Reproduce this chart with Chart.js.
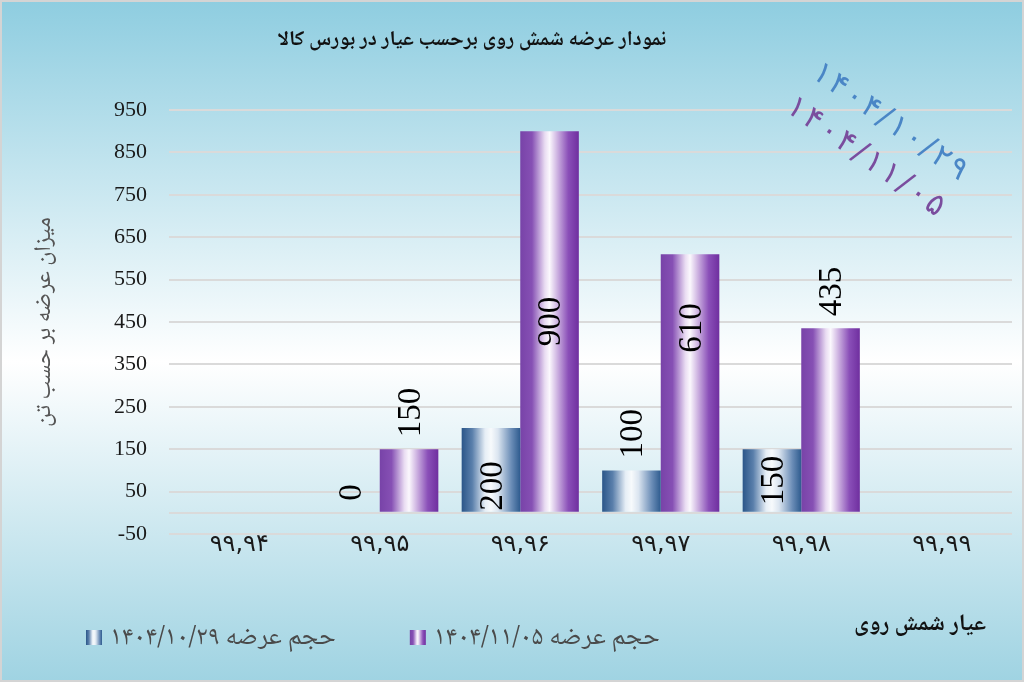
<!DOCTYPE html>
<html><head><meta charset="utf-8">
<script src="https://cdn.jsdelivr.net/npm/chart.js@4"></script>
<style>html,body{margin:0;padding:0;background:#fff}canvas{display:block}</style>
</head><body>
<canvas id="c" width="1024" height="682"></canvas>
<script>
// ---------- data ----------
const categories = ['۹۹,۹۴', '۹۹,۹۵', '۹۹,۹۶', '۹۹,۹۷', '۹۹,۹۸', '۹۹,۹۹'];
const seriesNames = ['حجم عرضه ۱۴۰۴/۱۰/۲۹', 'حجم عرضه ۱۴۰۴/۱۱/۰۵'];
const offer1029 = [null, 0, 200, 100, 150, null];
const offer1105 = [null, 150, 900, 610, 435, null];
const yTicks = [-50, 50, 150, 250, 350, 450, 550, 650, 750, 850, 950];
const yMin = -50, yMax = 950;
const titleText = 'نمودار عرضه شمش روی برحسب عیار در بورس کالا';
const yTitleText = 'میزان عرضه بر حسب تن';
const xTitleText = 'عیار شمش روی';
const dateStamps = ['۱۴۰۴/۱۰/۲۹', '۱۴۰۴/۱۱/۰۵'];

// ---------- styles ----------
const AR_FONT = '"Noto Naskh Arabic", "Noto Sans Arabic", "DejaVu Sans Condensed", "DejaVu Sans", sans-serif';
const DIGIT_FONT = '"DejaVu Sans", sans-serif';
const NUM_FONT = '"Liberation Serif", "Times New Roman", serif';
const blueStops = [[0,'#2b5689'],[0.18,'#5a7fab'],[0.4,'#e6eef6'],[0.5,'#f7fafc'],[0.62,'#dbe5f0'],[0.85,'#6a8cb6'],[1,'#2e5b8e']];
const purpleStops = [[0,'#7843a8'],[0.2,'#8650b4'],[0.42,'#e9dcf2'],[0.5,'#fbf8fd'],[0.6,'#d9c4e8'],[0.82,'#8a4fb8'],[1,'#6f2f9f']];
const seriesStops = [blueStops, purpleStops];
const stampColors = ['#4a86c6', '#7a4d9e'];
// where each value label sits: out = above bar, center, base = inside at bottom, top = inside near top
const labelPlacement = [
  [null, 'out', 'base', 'out', 'center', null],
  [null, 'out', 'center', 'top', 'out', null]
];

const mctx = document.createElement('canvas').getContext('2d');
function fitSize(text, target, weight, family) {
  mctx.font = weight + ' 100px ' + family;
  return 100 * target / mctx.measureText(text).width;
}
const titleSize = Math.max(18, fitSize(titleText, 389, 'bold', AR_FONT));
const yTitleSize = fitSize(yTitleText, 210, 'normal', AR_FONT);
const xTitleSize = Math.max(16, fitSize(xTitleText, 132, 'bold', AR_FONT));
const legendSize = fitSize(seriesNames[0], 226, 'normal', AR_FONT);
const yTickSize = 22, xTickSize = 24, xTickPad = -4, yTickPad = 22;

mctx.font = yTickSize + 'px ' + NUM_FONT;
const labelW = Math.max(...yTicks.map(v => mctx.measureText(String(v)).width));
const padLeft = 8;
const yLH = 1.2 * yTitleSize;
const yTitlePadTop = 47 - padLeft - yLH / 2;
const yTitlePadBottom = Math.max(0, 170 - padLeft - yTitlePadTop - yLH - labelW - yTickPad - 23);
const padBottom = 682 - 534 - (1.2 * xTickSize + xTickPad) + 4;

function hGrad(ctx, x0, x1, stops) {
  const g = ctx.createLinearGradient(x0, 0, x1, 0);
  stops.forEach(([o, c]) => g.addColorStop(o, c));
  return g;
}

const bgPlugin = {
  id: 'bg',
  beforeDraw(chart) {
    const {ctx, width, height} = chart;
    const g = ctx.createLinearGradient(0, 0, 0, height);
    g.addColorStop(0, '#8ecde0');
    g.addColorStop(0.53, '#ffffff');
    g.addColorStop(1, '#9fd3e2');
    ctx.save();
    ctx.fillStyle = g;
    ctx.fillRect(0, 0, width, height);
    ctx.restore();
  }
};

const gradPlugin = {
  id: 'gradBars',
  beforeDatasetsDraw(chart) {
    const ctx = chart.ctx;
    chart.data.datasets.forEach((ds, i) => {
      const meta = chart.getDatasetMeta(i);
      meta.data.forEach(el => {
        const w = el.width;
        el.options = Object.assign({}, el.options, {
          backgroundColor: hGrad(ctx, el.x - w / 2, el.x + w / 2, seriesStops[i])
        });
      });
    });
  }
};

const labelPlugin = {
  id: 'vlabels',
  afterDatasetsDraw(chart) {
    const ctx = chart.ctx;
    ctx.save();
    ctx.font = '33px ' + NUM_FONT;
    ctx.fillStyle = '#000';
    ctx.textAlign = 'center';
    ctx.textBaseline = 'middle';
    chart.data.datasets.forEach((ds, i) => {
      const meta = chart.getDatasetMeta(i);
      meta.data.forEach((el, j) => {
        const v = ds.data[j];
        if (v === null || v === undefined) return;
        const txt = String(v);
        const w = ctx.measureText(txt).width;
        const place = labelPlacement[i][j] || 'out';
        let cy;
        if (place === 'center') cy = (el.y + el.base) / 2;
        else if (place === 'base') cy = el.base - w / 2 - 1;
        else if (place === 'top') cy = el.y + 49 + w / 2;
        else cy = el.y - 12 - w / 2;
        ctx.save();
        ctx.translate(el.x, cy);
        ctx.rotate(-Math.PI / 2);
        ctx.fillText(txt, 0, 2);
        ctx.restore();
      });
    });
    ctx.restore();
  }
};

const textPlugin = {
  id: 'texts',
  afterDraw(chart) {
    const ctx = chart.ctx;
    ctx.save();
    // title
    ctx.fillStyle = '#111';
    ctx.font = 'bold ' + titleSize + 'px ' + AR_FONT;
    ctx.textAlign = 'center';
    ctx.textBaseline = 'middle';
    ctx.fillText(titleText, 472, 42);
    // x axis title
    ctx.font = 'bold ' + xTitleSize + 'px ' + AR_FONT;
    ctx.textAlign = 'right';
    ctx.fillText(xTitleText, 986, 627);
    // legend
    ctx.font = legendSize + 'px ' + AR_FONT;
    ctx.textAlign = 'left';
    let x = 86;
    seriesNames.forEach((name, i) => {
      ctx.fillStyle = hGrad(ctx, x, x + 16, seriesStops[i]);
      ctx.fillRect(x, 630, 16, 15);
      ctx.fillStyle = '#4a4a4a';
      ctx.fillText(name, x + 24, 641);
      x += 24 + ctx.measureText(name).width + 74;
    });
    // date stamps, spread char by char along a slanted line
    const ang = Math.atan2(103, 147);
    const starts = [[815, 70], [789, 104]];
    const lengths = [182, 186];
    dateStamps.forEach((s, i) => {
      ctx.save();
      ctx.translate(starts[i][0], starts[i][1]);
      ctx.rotate(ang);
      ctx.font = '31px ' + DIGIT_FONT;
      ctx.fillStyle = stampColors[i];
      ctx.textAlign = 'left';
      ctx.textBaseline = 'middle';
      const chars = Array.from(s);
      const widths = chars.map(c => ctx.measureText(c).width);
      const total = widths.reduce((a, b) => a + b, 0);
      const gap = (lengths[i] - total) / (chars.length - 1);
      let cx = 0;
      chars.forEach((c, k) => { ctx.fillText(c, cx, 0); cx += widths[k] + gap; });
      ctx.restore();
    });
    // frame
    ctx.strokeStyle = '#d4d4d4';
    ctx.lineWidth = 2;
    ctx.strokeRect(1, 1, chart.width - 2, chart.height - 2);
    ctx.restore();
  }
};

new Chart(document.getElementById('c'), {
  type: 'bar',
  data: {
    labels: categories,
    datasets: [
      {label: seriesNames[0], data: offer1029, backgroundColor: '#3a6797', borderWidth: 0},
      {label: seriesNames[1], data: offer1105, backgroundColor: '#7a3fab', borderWidth: 0}
    ]
  },
  options: {
    responsive: false,
    animation: false,
    devicePixelRatio: 1,
    categoryPercentage: 0.834,
    barPercentage: 1.0,
    layout: {padding: {left: padLeft, right: 12, top: 110, bottom: padBottom}},
    plugins: {legend: {display: false}, title: {display: false}, tooltip: {enabled: false}},
    scales: {
      x: {
        grid: {display: false, drawTicks: false},
        border: {display: false},
        ticks: {font: {family: DIGIT_FONT, size: xTickSize}, color: '#1a1a1a', padding: xTickPad, maxRotation: 0}
      },
      y: {
        min: yMin, max: yMax,
        afterBuildTicks(scale) {
          scale.ticks = [...yTicks, 0].sort((a, b) => a - b).map(v => ({value: v}));
        },
        grid: {color: '#dadada', lineWidth: 2, drawTicks: false},
        border: {display: false},
        ticks: {
          font: {family: NUM_FONT, size: yTickSize}, color: '#1a1a1a', padding: yTickPad,
          callback: v => (v === 0 ? '' : String(v))
        },
        title: {
          display: true, text: yTitleText, color: '#555',
          font: {family: AR_FONT, size: yTitleSize},
          padding: {top: yTitlePadTop, bottom: yTitlePadBottom}
        }
      }
    }
  },
  plugins: [bgPlugin, gradPlugin, labelPlugin, textPlugin]
});
</script>
</body></html>
